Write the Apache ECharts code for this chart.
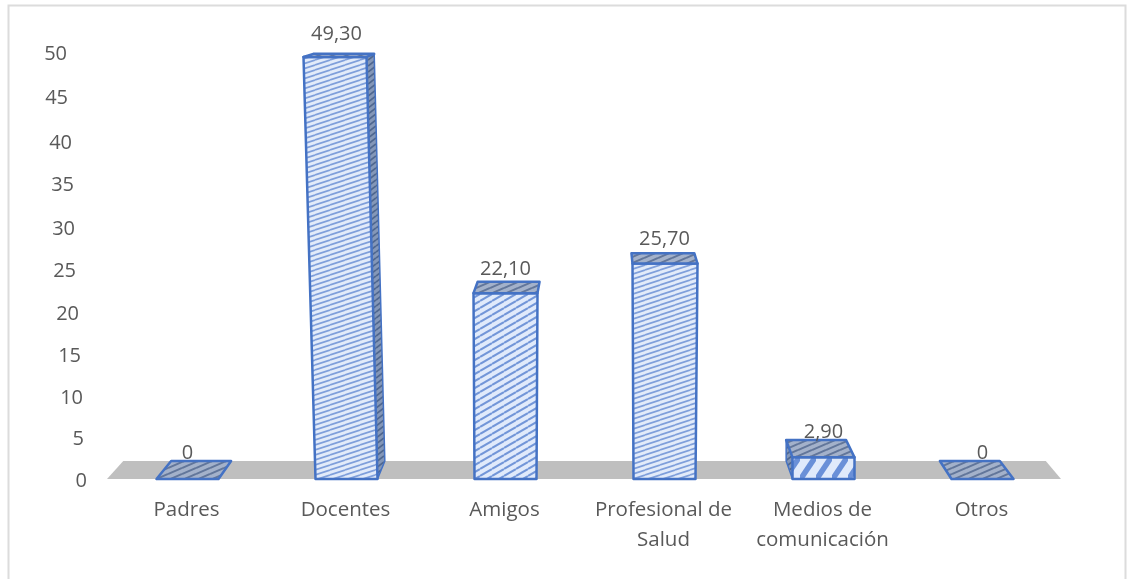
<!DOCTYPE html>
<html>
<head>
<meta charset="utf-8">
<style>
  html, body { margin: 0; padding: 0; background: #fff; }
  #chart { width: 1127px; height: 579px; }
</style>
</head>
<body>
<div id="chart"></div>
<script src="https://cdn.jsdelivr.net/npm/echarts@6/dist/echarts.min.js"></script>
<script>
const categories = ['Padres', 'Docentes', 'Amigos', 'Profesional de\nSalud', 'Medios de\ncomunicación', 'Otros']
const values = [0, 49.3, 22.1, 25.7, 2.9, 0]
const valueLabels = ['0', '49,30', '22,10', '25,70', '2,90', '0']
const yTicks = [0, 5, 10, 15, 20, 25, 30, 35, 40, 45, 50]

// ajuste manual: la barra 3D se abre e inclina distinto en cada categoria
const labelShift = [[0, -8], [-10, -20], [0, -12], [0, -14], [0, -8], [0, -8]]
const topLean = [[0, 0], [-12, -11], [-1, 1], [-1, 2], [0, 0], [0, 0]]
const topNudge = [0, -3, 2, 3, 3, 0]
// las etiquetas del eje y tambien van inclinadas (mismo orden que yTicks)
const tickShiftX = [0, 3, 4, 6, 8, 11, 12, 13, 15, 19, 20]
const tickShiftY = [2, 3, 4, 5, 5, 5, 5, 4, 4, 2, 0]

const textColor = '#595959'
const edgeColor = '#4472c4'
const fontName = '"Open Sans", sans-serif'
const barWidth = 62

// perspectiva: cada punto se mueve hacia un punto de fuga
const vanishX = 600
const vanishY = -30
const depthX = 0.033
const depthY = 0.0354
const back = (p) => [p[0] + (vanishX - p[0]) * depthX, p[1] + (vanishY - p[1]) * depthY]

// tramas: w y h marcan la pendiente de la linea
const hatch = (w, h, bg, line, lineWidth) => {
  const c = document.createElement('canvas')
  c.width = w
  c.height = h
  const ctx = c.getContext('2d')
  ctx.fillStyle = bg
  ctx.fillRect(0, 0, w, h)
  ctx.strokeStyle = line
  ctx.lineWidth = lineWidth
  for (let i = -1; i <= 1; i++) {
    ctx.beginPath()
    ctx.moveTo(0, h * (i + 1))
    ctx.lineTo(w, h * i)
    ctx.stroke()
  }
  return { image: c, repeat: 'repeat' }
}
const fineFill = hatch(15, 5, '#e2ebfa', '#7f9fdb', 1.7)
const midFill = hatch(12, 7, '#e0eafb', '#7296d8', 2)
const coarseFill = hatch(16, 24, '#e0eafb', '#6a90d8', 5.5)
const frontFills = [fineFill, fineFill, midFill, fineFill, coarseFill, fineFill]
const topFill = hatch(14, 6, '#a3b1ca', '#62769a', 2)
const sideFill = hatch(8, 6, '#8497b8', '#4f678f', 1.8)

const renderBar = (params, api) => {
  const i = api.value(0)
  const val = api.value(1)
  const base = api.coord([i, 0])
  const top = api.coord([i, val])
  const cx = base[0] + 1
  const x0 = cx - barWidth / 2
  const x1 = cx + barWidth / 2
  const topY = top[1] + topNudge[i]
  const fl = [x0 + topLean[i][0], topY]
  const fr = [x1 + topLean[i][1], topY]
  const bl = [x0, base[1]]
  const br = [x1, base[1]]
  const children = []
  const poly = (points, fill, lw) => ({
    type: 'polygon',
    shape: { points: points },
    style: { fill: fill, stroke: edgeColor, lineWidth: lw, lineJoin: 'round' }
  })

  if (val > 0) {
    // cara lateral, solo si se alcanza a ver
    if (back(fr)[0] - fr[0] > 4) {
      children.push(poly([fr, back(fr), back(br), br], sideFill, 1.5))
    }
    if (fl[0] - back(fl)[0] > 4) {
      children.push(poly([fl, back(fl), back(bl), bl], sideFill, 1.5))
    }
    children.push(poly([fl, fr, br, bl], frontFills[i], 2.5))
  }
  children.push(poly([fl, fr, back(fr), back(fl)], topFill, 2.5))

  const shift = labelShift[i]
  children.push({
    type: 'text',
    style: {
      x: cx + shift[0],
      y: back(fl)[1] + shift[1],
      text: valueLabels[i],
      fill: textColor,
      font: '20px ' + fontName,
      align: 'center',
      verticalAlign: 'middle'
    }
  })
  return { type: 'group', children: children }
}

// piso gris de la grafica
const renderFloor = (params, api) => {
  const g = params.coordSys
  const y0 = api.coord([0, 0])[1]
  const a = [g.x, y0]
  const b = [g.x + g.width, y0]
  return {
    type: 'polygon',
    shape: { points: [a, b, back(b), back(a)] },
    style: { fill: '#bfbfbf' }
  }
}

// un estilo rich por tick para poder moverlo
const tickRich = {}
yTicks.forEach((t, i) => {
  tickRich['t' + t] = {
    color: textColor,
    fontSize: 20,
    fontFamily: fontName,
    padding: [tickShiftY[i] * 2, tickShiftX[i], 0, 0]
  }
})

const myChart = echarts.init(document.getElementById('chart'), null, { renderer: 'canvas' })
myChart.setOption({
  animation: false,
  backgroundColor: '#ffffff',
  textStyle: { fontFamily: fontName },
  graphic: [{
    type: 'rect',
    silent: true,
    shape: { x: 8.5, y: 5.5, width: 1117, height: 640 },
    style: { fill: 'none', stroke: '#dcdcdc', lineWidth: 2 }
  }],
  grid: { left: 107, right: 66, top: 54, bottom: 100 },
  xAxis: {
    type: 'category',
    data: categories,
    axisLine: { show: false },
    axisTick: { show: false },
    axisLabel: {
      color: textColor,
      fontSize: 20.5,
      lineHeight: 30,
      margin: 16,
      interval: 0,
      fontFamily: fontName
    }
  },
  yAxis: {
    type: 'value',
    min: yTicks[0],
    max: yTicks[yTicks.length - 1],
    interval: yTicks[1] - yTicks[0],
    axisLine: { show: false },
    axisTick: { show: false },
    splitLine: { show: false },
    axisLabel: {
      margin: 20,
      formatter: (v) => '{t' + v + '|' + v + '}',
      rich: tickRich
    }
  },
  series: [
    {
      type: 'custom',
      silent: true,
      clip: false,
      z: 1,
      renderItem: renderFloor,
      data: [0]
    },
    {
      type: 'custom',
      clip: false,
      z: 2,
      encode: { x: 0, y: 1 },
      renderItem: renderBar,
      data: values.map((v, i) => [i, v])
    }
  ]
})
</script>
</body>
</html>
